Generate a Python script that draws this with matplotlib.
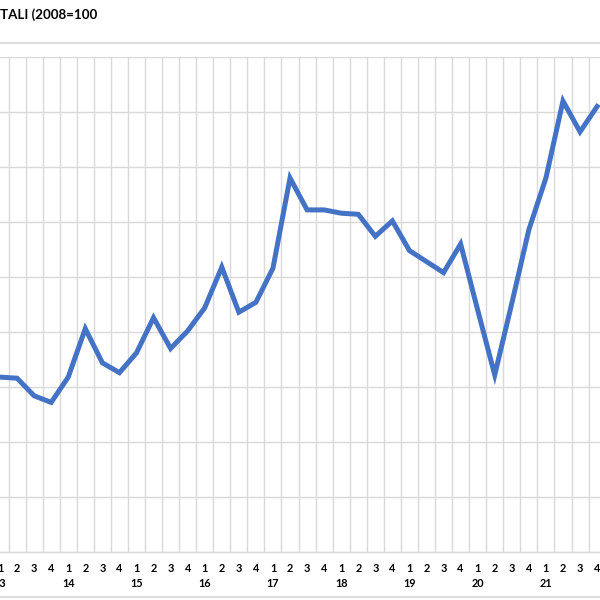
import matplotlib
matplotlib.use("Agg")
import matplotlib.pyplot as plt
from matplotlib.lines import Line2D

# quarterly index (2008=100), Q4 2012 .. Q4 2021
quarters = ["4", "1", "2", "3", "4"] + ["1", "2", "3", "4"] * 8
years = ["12", "13", "14", "15", "16", "17", "18", "19", "20", "21"]
values = [75.9,
          75.9, 75.8, 74.2, 73.6,
          75.9, 80.3, 77.2, 76.3,
          78.1, 81.3, 78.5, 80.1,
          82.2, 85.9, 81.8, 82.7,
          85.8, 94.0, 91.1, 91.1,
          90.8, 90.7, 88.7, 90.1,
          87.4, 86.4, 85.4, 88.0,
          82.0, 76.1, 82.6, 89.3,
          94.0, 101.0, 98.2, 100.5]
title = "TALI (2008=100"

blue = "#4472C4"
grid = "#d9d9d9"

fig = plt.figure(figsize=(6, 6), dpi=100)
ax = fig.add_axes([0.0, 0.08, 1.0, 0.825])

x = list(range(-1, len(values) - 1))
ax.plot(x, values, color=blue, lw=3.6, solid_joinstyle="miter", zorder=3)

ax.set_yticks(range(60, 106, 5))
ax.yaxis.grid(True, color=grid, lw=1)
ax.set_xticks([i + 0.5 for i in range(-1, 36)], minor=True)
ax.xaxis.grid(True, which="minor", color=grid, lw=1)
ax.tick_params(axis="y", left=False, labelleft=False)
ax.tick_params(axis="x", which="both", length=0)

labels = []
for i, q in zip(x, quarters):
    if q == "1":
        labels.append(q + "\n" + years[(i + 1) // 4 + 1])
    else:
        labels.append(q)
ax.set_xticks(x)
ax.set_xticklabels(labels, fontfamily="Lato", fontweight="bold", fontsize=7.8)
for t in ax.get_xticklabels():
    t.set_linespacing(1.45)
ax.tick_params(axis="x", pad=8)

ax.set_xlim(0, 35.17)
ax.set_ylim(60, 105)

for s in ["top", "left", "right"]:
    ax.spines[s].set_visible(False)
ax.spines["bottom"].set_color(grid)
ax.spines["bottom"].set_linewidth(1)
ax.set_axisbelow(True)

fig.text(0.0, 1 - 15 / 600, title, fontfamily="Lato", fontweight="bold",
         fontsize=9.6, va="center", ha="left")
fig.add_artist(Line2D([0, 1], [1 - 43 / 600] * 2, color="#dedede", lw=1.6))
fig.add_artist(Line2D([0, 1], [1 - 597 / 600] * 2, color="#dedede", lw=1.6))

fig.savefig("out.png", dpi=100, facecolor="white")
